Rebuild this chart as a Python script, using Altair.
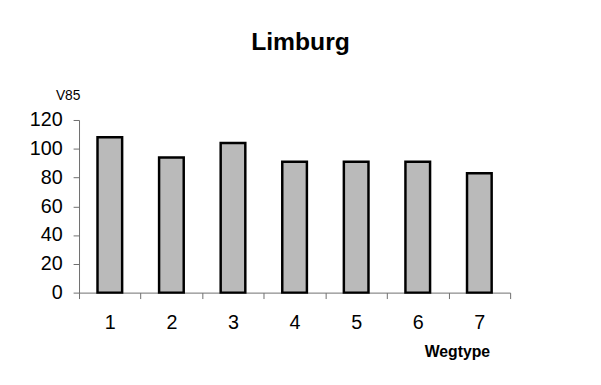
import altair as alt
import pandas as pd

wegtype = [1, 2, 3, 4, 5, 6, 7]
v85 = [108, 94, 104, 91, 91, 91, 83]
y_ticks = [0, 20, 40, 60, 80, 100, 120]
x_bounds = [0.5, 1.5, 2.5, 3.5, 4.5, 5.5, 6.5, 7.5]

df = pd.DataFrame({"Wegtype": wegtype, "V85": v85})

FONT = "Liberation Sans"
AXIS_GREY = "#6e6e6e"

chart = alt.Chart(df).transform_calculate(
    x0="datum.Wegtype - 0.2", x1="datum.Wegtype + 0.2"
).mark_bar(
    color="#bababa", stroke="#000000", strokeWidth=2.5
).encode(
    x=alt.X(
        "x0:Q",
        scale=alt.Scale(domain=[0.5, 7.5], nice=False, zero=False, padding=0),
        axis=alt.Axis(
            title="Wegtype", titleFont=FONT, titleFontSize=16, titleFontWeight="bold",
            titleColor="#000000", titleX=383, titleY=65, titleAlign="center",
            titleBaseline="alphabetic",
            values=x_bounds,
            labelExpr="datum.value < 7 ? format(datum.value + 0.5, 'd') : ''",
            labelOffset=31.2, labelFlush=False, labelOverlap=False, labelBound=False,
            labelAngle=0, labelFont=FONT, labelFontSize=20, labelColor="#000000",
            labelPadding=14, tickSize=6, tickColor=AXIS_GREY,
            domainColor=AXIS_GREY, grid=False,
        ),
    ),
    x2="x1:Q",
    y=alt.Y(
        "V85:Q",
        scale=alt.Scale(domain=[0, 120], nice=False, padding=0),
        axis=alt.Axis(
            title="V85", titleFont=FONT, titleFontSize=14, titleFontWeight="normal",
            titleColor="#000000", titleAngle=0, titleX=-11.5, titleY=-21,
            titleAlign="center", titleBaseline="alphabetic",
            values=y_ticks, labelFont=FONT, labelFontSize=20, labelColor="#000000",
            labelPadding=11, tickSize=6, tickColor=AXIS_GREY,
            domainColor=AXIS_GREY, grid=False,
        ),
    ),
    y2=alt.datum(0),
).properties(
    width=437,
    height=175,
    padding={"left": 72, "top": 111, "right": 84, "bottom": 83},
    autosize=alt.AutoSizeParams(type="none"),
    background="#ffffff",
    title=alt.TitleParams(
        "Limburg", font=FONT, fontSize=25, fontWeight="bold", color="#000000",
        anchor="middle", baseline="bottom", offset=9, dx=6,
    ),
).configure_view(strokeWidth=0)

chart.save("out.html", embed_options={"renderer": "svg", "actions": False})
